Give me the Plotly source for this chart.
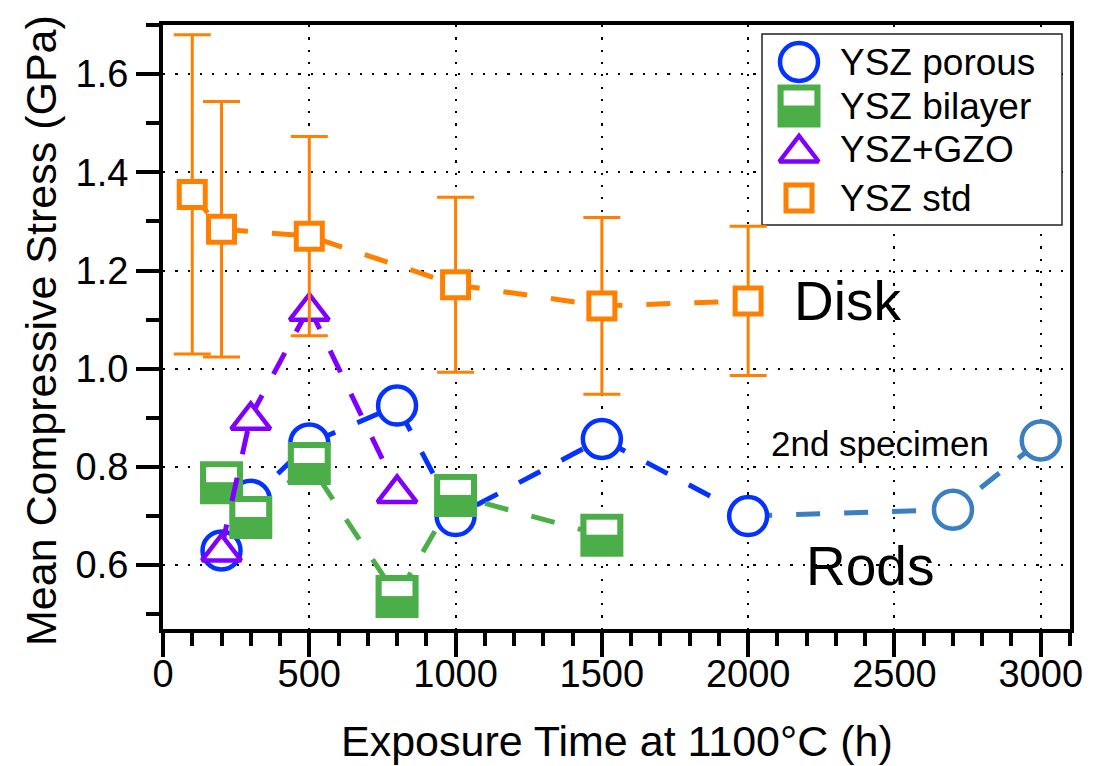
import plotly.graph_objects as go

# ---- data: exposure time (h) vs mean compressive stress (GPa) ----
porous_t = [200, 300, 500, 800, 1000, 1500, 2000]
porous_s = [0.630, 0.733, 0.848, 0.925, 0.700, 0.857, 0.700]

second_t = [2700, 3000]
second_s = [0.713, 0.854]

bilayer_t = [200, 300, 500, 800, 1000, 1500]
bilayer_s = [0.768, 0.697, 0.807, 0.536, 0.742, 0.661]

gzo_t = [200, 300, 500, 800]
gzo_s = [0.635, 0.903, 1.125, 0.754]

std_t = [100, 200, 500, 1000, 1500, 2000]
std_s = [1.355, 1.284, 1.270, 1.171, 1.128, 1.138]
std_err = [0.325, 0.260, 0.203, 0.178, 0.180, 0.152]

legend_labels = ["YSZ porous", "YSZ bilayer", "YSZ+GZO", "YSZ std"]

# ---- styling ----
FONT = "Liberation Sans, Arial, Helvetica, sans-serif"
BLUE = "#0433ff"
STEEL = "#3b7fc0"
GREEN = "#4cae48"
PURPLE = "#8000ff"
ORANGE = "#ff8000"
DASH = "24px,24px"

W, H = 1109, 766
L, R, T, B = 163, 1070, 25, 629          # plot area edges in page pixels
XR = [0, 3100]
YR = [0.47, 1.70]


def px_to_x(px):
    return XR[0] + (px - L) / (R - L) * (XR[1] - XR[0])


def px_to_y(py):
    return YR[0] + (B - py) / (B - T) * (YR[1] - YR[0])


fig = go.Figure()

# second specimen: dashed link from the last porous point, then its markers
fig.add_trace(go.Scatter(
    x=[porous_t[-1]] + second_t, y=[porous_s[-1]] + second_s,
    mode="lines", line=dict(color=STEEL, width=5, dash=DASH)))
fig.add_trace(go.Scatter(
    x=second_t, y=second_s, mode="markers",
    marker=dict(symbol="circle", size=38, color="white",
                line=dict(color=STEEL, width=4.5))))

# YSZ porous
fig.add_trace(go.Scatter(
    x=porous_t, y=porous_s, mode="lines+markers",
    line=dict(color=BLUE, width=5, dash=DASH),
    marker=dict(symbol="circle", size=38, color="white",
                line=dict(color=BLUE, width=4.5))))

# YSZ bilayer: solid square with a white bar in its upper half
fig.add_trace(go.Scatter(
    x=bilayer_t, y=bilayer_s, mode="lines+markers",
    line=dict(color=GREEN, width=5, dash=DASH),
    marker=dict(symbol="square", size=43, color=GREEN, line=dict(width=0))))
fig.add_trace(go.Scatter(
    x=bilayer_t, y=bilayer_s, mode="markers",
    marker=dict(symbol="line-ew", size=22, angle=180, standoff=8,
                color="white", line=dict(color="white", width=15))))

# YSZ+GZO
fig.add_trace(go.Scatter(
    x=gzo_t, y=gzo_s, mode="lines+markers",
    line=dict(color=PURPLE, width=5, dash=DASH),
    marker=dict(symbol="triangle-up", size=34, color="white", standoff=4,
                line=dict(color=PURPLE, width=4.5))))

# YSZ std (disk) with error bars
fig.add_trace(go.Scatter(
    x=std_t, y=std_s, mode="lines+markers",
    line=dict(color=ORANGE, width=5, dash=DASH),
    error_y=dict(type="data", array=std_err, visible=True,
                 color=ORANGE, thickness=3, width=18.5),
    marker=dict(symbol="square", size=26, color="white",
                line=dict(color=ORANGE, width=5))))

# ---- legend, drawn on a pixel-scaled overlay axis pair ----
lx_marker, lx_text = 799, 838
ly = [62, 106, 149, 198]
leg_markers = [
    dict(symbol="circle", size=38, color="white", line=dict(color=BLUE, width=4.5)),
    dict(symbol="square", size=43, color=GREEN, line=dict(width=0)),
    dict(symbol="triangle-up", size=34, color="white", standoff=4,
         line=dict(color=PURPLE, width=4.5)),
    dict(symbol="square", size=26, color="white", line=dict(color=ORANGE, width=5)),
]
for yy, mk in zip(ly, leg_markers):
    fig.add_trace(go.Scatter(x=[lx_marker], y=[yy], mode="markers", marker=mk,
                             xaxis="x2", yaxis="y2"))
fig.add_trace(go.Scatter(
    x=[lx_marker], y=[ly[1]], mode="markers", xaxis="x2", yaxis="y2",
    marker=dict(symbol="line-ew", size=22, angle=180, standoff=8,
                color="white", line=dict(color="white", width=15))))

for yy, lab in zip(ly, legend_labels):
    fig.add_annotation(x=lx_text, y=yy, xref="x2", yref="y2", text=lab,
                       showarrow=False, xanchor="left", yanchor="middle",
                       font=dict(family=FONT, size=37, color="black"))

# legend frame: above the grid, below the data layers
fig.add_shape(type="rect", xref="x", yref="y", layer="between",
              x0=px_to_x(762), x1=px_to_x(1062), y0=px_to_y(225), y1=px_to_y(34),
              fillcolor="white", line=dict(color="#222222", width=1.5))

# ---- text labels in the plot ----
fig.add_annotation(x=2340, y=1.137, text="Disk", showarrow=False,
                   font=dict(family=FONT, size=55, color="black"))
fig.add_annotation(x=2416, y=0.598, text="Rods", showarrow=False,
                   font=dict(family=FONT, size=55, color="black"))
fig.add_annotation(x=2452, y=0.848, text="2nd specimen", showarrow=False,
                   font=dict(family=FONT, size=35, color="black"))

# axis titles
fig.add_annotation(x=0.5, y=0, xref="paper", yref="paper", yshift=-112,
                   text="Exposure Time at 1100°C (h)", showarrow=False,
                   yanchor="middle", font=dict(family=FONT, size=43, color="black"))
fig.add_annotation(x=0, y=0.5, xref="paper", yref="paper", xshift=-122, yshift=-4,
                   text="Mean Compressive Stress (GPa)", showarrow=False, textangle=-90,
                   xanchor="center", yanchor="middle",
                   font=dict(family=FONT, size=43, color="black"))

axis_common = dict(
    showline=True, linecolor="black", linewidth=4, mirror=True,
    ticks="outside", tickwidth=4, tickcolor="black",
    showgrid=True, gridcolor="black", gridwidth=2.2, griddash="2.2px,10.1px",
    zeroline=False, tickfont=dict(family=FONT, size=38, color="black"),
)

fig.update_layout(
    width=W, height=H,
    margin=dict(l=L, r=W - R, t=T, b=H - B),
    paper_bgcolor="white", plot_bgcolor="white",
    showlegend=False,
    xaxis=dict(range=XR, tick0=0, dtick=500, ticklen=24, ticklabelstandoff=-16,
               minor=dict(dtick=100, ticks="outside", ticklen=13, tickwidth=4,
                          tickcolor="black", showgrid=False),
               **axis_common),
    yaxis=dict(range=YR, tick0=0, dtick=0.2, ticklen=23, tickformat=".1f",
               minor=dict(dtick=0.1, ticks="outside", ticklen=13, tickwidth=4,
                          tickcolor="black", showgrid=False),
               **axis_common),
    xaxis2=dict(range=[L, R], overlaying="x", anchor="y2", visible=False),
    yaxis2=dict(range=[B, T], overlaying="y", anchor="x2", visible=False),
)

fig.write_html("out.html")
